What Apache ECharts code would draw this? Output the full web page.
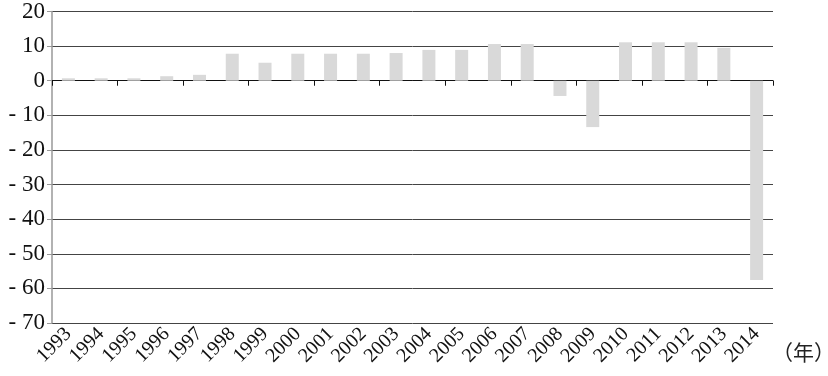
<!DOCTYPE html>
<html><head><meta charset="utf-8">
<script src="https://cdn.jsdelivr.net/npm/echarts@6/dist/echarts.min.js"></script>
<style>html,body{margin:0;padding:0;background:#fff}#c{width:828px;height:376px}</style>
</head><body><div id="c"></div>
<script>
const years = ['1993','1994','1995','1996','1997','1998','1999','2000','2001','2002','2003','2004','2005','2006','2007','2008','2009','2010','2011','2012','2013','2014'];
const values = [0.7,0.7,0.7,1.3,1.7,7.8,5.2,7.8,7.8,7.8,8.0,8.9,8.9,10.6,10.6,-4.4,-13.4,11.1,11.1,11.1,9.5,-57.6];
const yMin = -70, yMax = 20, yStep = 10;
const unitLabel = '（年）';

const chart = echarts.init(document.getElementById('c'));
const serif = 'Liberation Serif';
chart.setOption({
  animation:false,
  grid:{left:52,right:55,top:9,bottom:53,containLabel:false},
  xAxis:[{
    type:'category',data:years,boundaryGap:true,
    axisLine:{onZero:true,lineStyle:{color:'#111',width:1}},
    axisTick:{show:true,length:5,lineStyle:{color:'#111'},alignWithLabel:false},
    axisLabel:{show:false},splitLine:{show:false}
  },{
    type:'category',data:years,position:'bottom',
    axisLine:{show:false,onZero:false},axisTick:{show:false},
    axisLabel:{rotate:45,fontFamily:serif,fontSize:20,color:'#111',margin:8,interval:0}
  }],
  yAxis:{
    type:'value',min:yMin,max:yMax,interval:yStep,
    axisLine:{show:true,lineStyle:{color:'#999',width:1.5}},
    axisTick:{show:true,length:5,lineStyle:{color:'#999'}},
    splitLine:{show:true,lineStyle:{color:'#444',width:1}},
    axisLabel:{fontFamily:serif,fontSize:23,color:'#111',margin:7,
      formatter:v=>v<0?'- '+Math.abs(v):String(v)}
  },
  series:[{type:'bar',data:values,xAxisIndex:0,barWidth:13,itemStyle:{color:'#d9d9d9'}}],
  graphic:[{type:'text',left:772,top:342,style:{text:unitLabel,font:'21px "Noto Sans CJK SC"',fill:'#222'}}]
});
</script></body></html>
